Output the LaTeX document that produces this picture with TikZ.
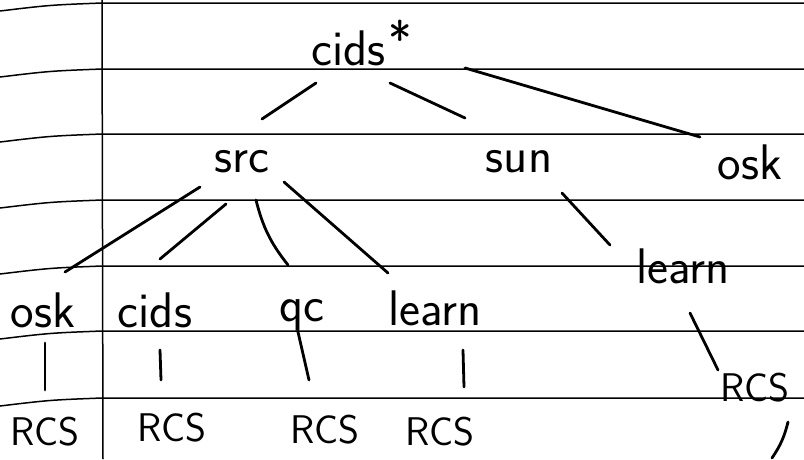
\documentclass[tikz,border=0pt]{standalone}
\usepackage{tikz}
\begin{document}
\begin{tikzpicture}[x=1pt,y=-1pt,
  word/.style={font=\sffamily\fontsize{50}{52}\selectfont,inner sep=0pt},
  caps/.style={font=\sffamily\fontsize{40}{42}\selectfont,inner sep=0pt},
  pen/.style={line width=2.8pt,line cap=round},
  rule/.style={line width=1.5pt}]
\useasboundingbox (0,0) rectangle (804,459);
\foreach \y in {3,69,134,200,266,331,398}
  \draw[rule] (0,\y+8) .. controls (50,\y+2) .. (102,\y) -- (804,\y);
\draw[rule] (102,0) -- (103,459);
\node[word] (r) at (362,43) {cids\kern3pt\raisebox{8pt}{*}};
\node[word] (s) at (242,162) {src};
\node[word] (u) at (519,162) {sun};
\node[word] (o) at (750,162) {osk};
\node[word] (a) at (43,310) {osk};
\node[word] (b) at (155,310) {cids};
\node[word] (c) at (302,315) {qc};
\node[word] (d) at (435,308) {learn};
\node[word] (e) at (683,266) {learn};
\node[caps] (f) at (45,432) {RCS};
\node[caps] (g) at (172,428) {RCS};
\node[caps] (h) at (325,430) {RCS};
\node[caps] (i) at (440,432) {RCS};
\node[caps] (j) at (755,388) {RCS};
\coordinate (k) at (772,458);
\draw[pen] ([shift={(-46,40)}]r.center) -- ([shift={(20,-43)}]s.center);
\draw[pen] ([shift={(28,40)}]r.center) -- ([shift={(-54,-44)}]u.center);
\draw[pen] ([shift={(103,25)}]r.center) -- ([shift={(-50,-25)}]o.center);
\draw[pen] ([shift={(-42,25)}]s.center) -- ([shift={(22,-38)}]a.center);
\draw[pen] ([shift={(-16,42)}]s.center) -- ([shift={(5,-51)}]b.center);
\draw[pen] ([shift={(14,38)}]s.center) to[bend right=12] ([shift={(-14,-50)}]c.center);
\draw[pen] ([shift={(42,20)}]s.center) -- ([shift={(-47,-35)}]d.center);
\draw[pen] ([shift={(43,31)}]u.center) -- ([shift={(-73,-21)}]e.center);
\draw[pen] ([shift={(7,47)}]e.center) -- ([shift={(-37,-18)}]j.center);
\draw[pen] ([shift={(2,33)}]a.center) -- ([shift={(0,-42)}]f.center);
\draw[pen] ([shift={(5,40)}]b.center) -- ([shift={(-11,-48)}]g.center);
\draw[pen] ([shift={(-4,17)}]c.center) -- ([shift={(-16,-50)}]h.center);
\draw[pen] ([shift={(28,42)}]d.center) -- ([shift={(24,-45)}]i.center);
\draw[pen] ([shift={(33,34)}]j.center) to[bend left=10] (k);
\end{tikzpicture}
\end{document}
